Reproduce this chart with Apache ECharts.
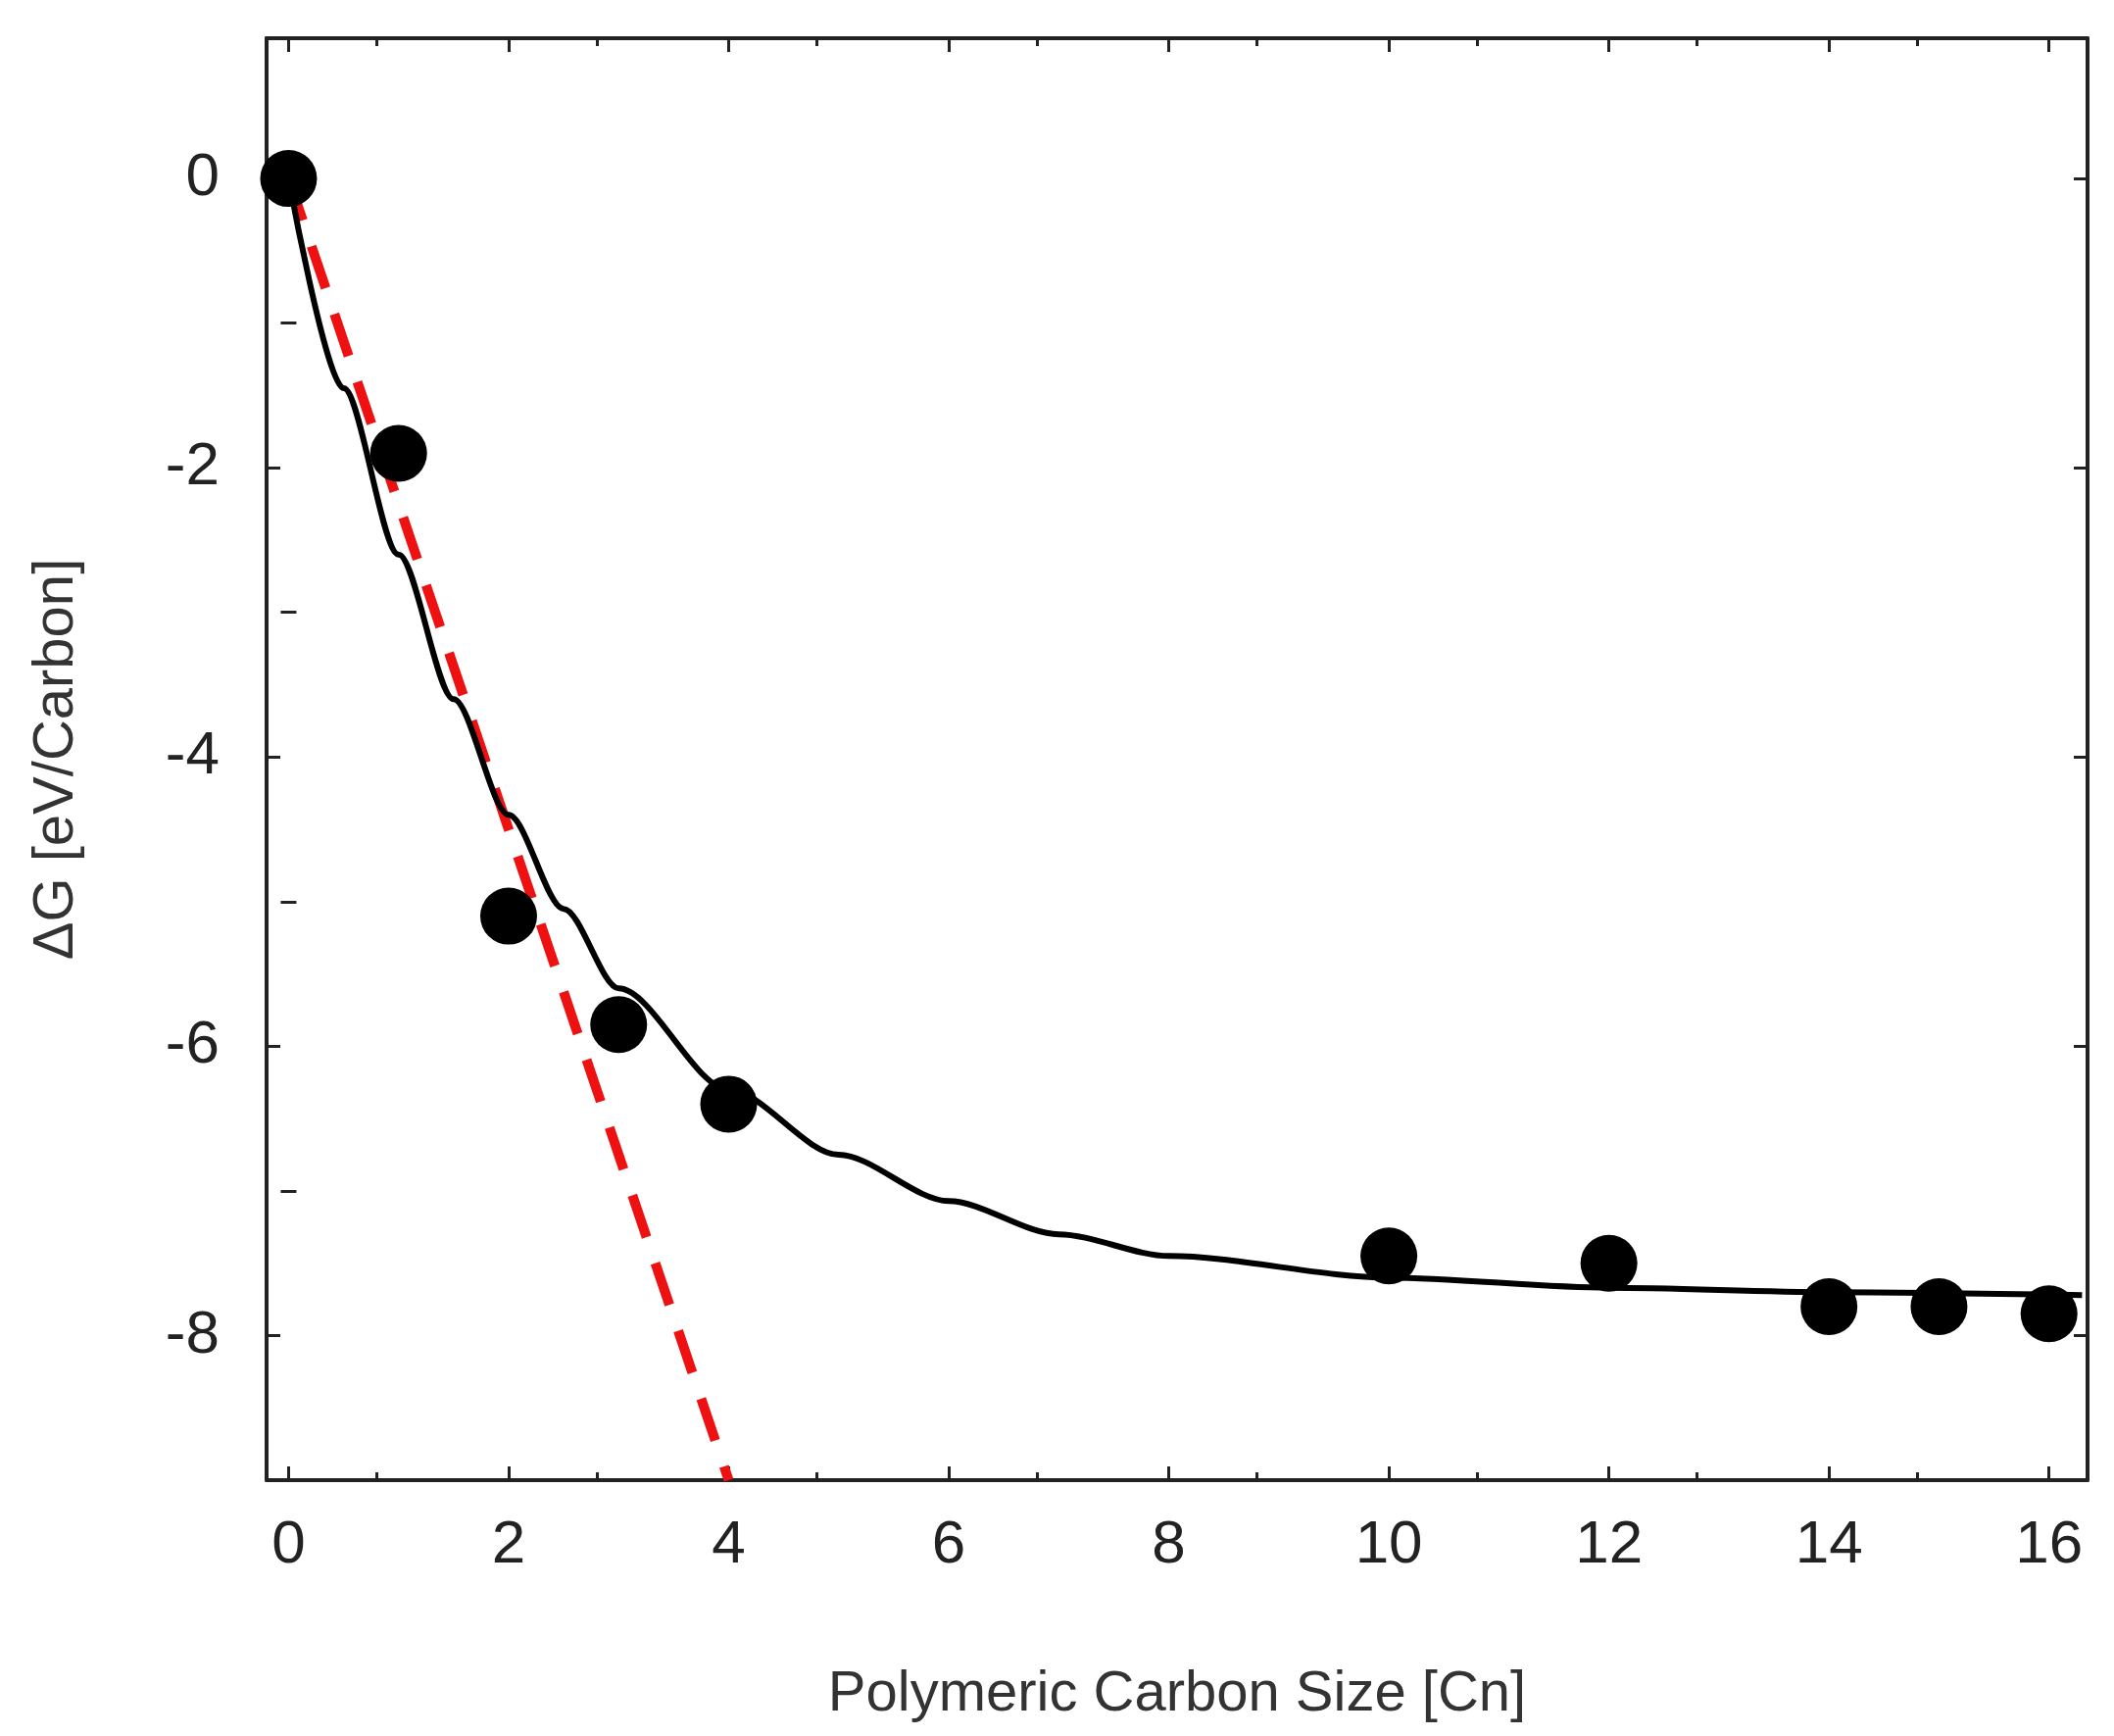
<!DOCTYPE html>
<html><head><meta charset="utf-8">
<script src="https://cdn.jsdelivr.net/npm/echarts@6/dist/echarts.min.js"></script>
<style>html,body{margin:0;background:#fff}#main{width:2157px;height:1771px}</style>
</head><body><div id="main"></div>
<script>
var points = [[0, 0], [1, -1.9], [2, -5.1], [3, -5.85], [4, -6.4], [10, -7.45], [12, -7.5], [14, -7.8], [15, -7.8], [16, -7.85]];
var fitCurve = [[0, 0], [0.5, -1.45], [1, -2.6], [1.5, -3.6], [2, -4.4], [2.5, -5.05], [3, -5.6], [4, -6.3], [5, -6.75], [6, -7.07], [7, -7.3], [8, -7.45], [10, -7.6], [12, -7.67], [14, -7.7], [16.3, -7.72]];
var slopeLine = [[0, 0], [4, -9]];

var font = 'Liberation Sans, Arial, sans-serif';
function xAx(show) {
	return {
		type: 'value', min: -0.2, max: 16.35, interval: 2, position: show ? 'bottom' : 'top',
		axisLine: {show: true, onZero: false, lineStyle: {color: '#222', width: 4}},
		axisTick: {show: true, inside: true, length: 14, customValues: [0,2,4,6,8,10,12,14,16], lineStyle: {color: '#222', width: 3}},
		minorTick: {show: true, splitNumber: 2, length: 8, lineStyle: {color: '#222', width: 3}},
		axisLabel: {show: show, customValues: [0,2,4,6,8,10,12,14,16], fontSize: 62, color: '#222', margin: 36, fontFamily: font},
		splitLine: {show: false},
		name: show ? 'Polymeric Carbon Size [Cn]' : '', nameLocation: 'middle', nameGap: 190,
		nameTextStyle: {fontSize: 58, color: '#333', fontFamily: font}
	};
}
function yAx(show) {
	return {
		type: 'value', min: -9, max: 0.97, position: show ? 'left' : 'right',
		axisLine: {show: true, onZero: false, lineStyle: {color: '#222', width: 4}},
		axisTick: {show: true, inside: true, length: 14, customValues: [0,-2,-4,-6,-8], lineStyle: {color: '#222', width: 3}},
		minorTick: {show: false},
		axisLabel: {show: show, customValues: [0,-2,-4,-6,-8], fontSize: 62, color: '#222', margin: 48, fontFamily: font},
		splitLine: {show: false},
		name: show ? 'ΔG [eV/Carbon]' : '', nameLocation: 'middle', nameGap: 185,
		nameTextStyle: {fontSize: 58, color: '#333', fontFamily: font}
	};
}
var minorY = {
	type: 'value', min: -9, max: 0.97, position: 'left', show: true,
	axisLine: {show: false}, axisLabel: {show: false}, splitLine: {show: false},
	axisTick: {show: true, inside: true, length: 8, customValues: [-1,-3,-5,-7], lineStyle: {color: '#222', width: 3}}
};
var minorYR = Object.assign({}, minorY, {position: 'right'});

var myChart = echarts.init(document.getElementById('main'));
myChart.setOption({
	animation: false,
	grid: {left: 272, right: 27, top: 39, bottom: 261},
	xAxis: [xAx(true), xAx(false)],
	yAxis: [yAx(true), yAx(false), minorY, minorYR],
	series: [
		{type: 'line', data: slopeLine, showSymbol: false, lineStyle: {color: '#ee1111', width: 10, type: [45, 28]}, z: 3},
		{type: 'line', data: fitCurve, smooth: 0.3, smoothMonotone: 'x', showSymbol: false, lineStyle: {color: '#000', width: 6}, z: 4},
		{type: 'scatter', data: points, symbolSize: 58, itemStyle: {color: '#000', opacity: 1}, z: 5}
	]
});
</script></body></html>
